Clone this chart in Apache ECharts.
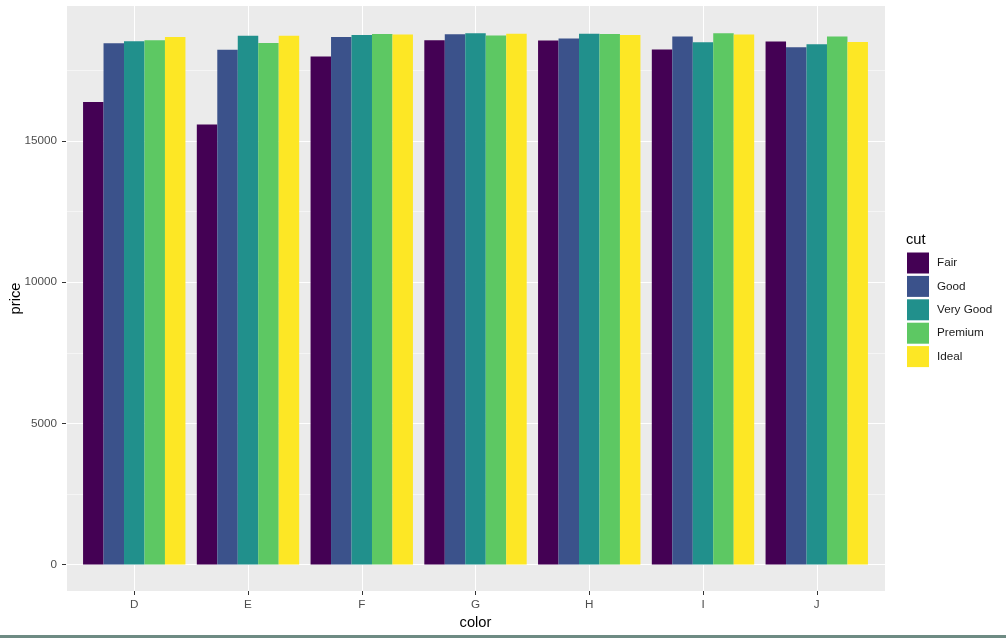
<!DOCTYPE html>
<html>
<head>
<meta charset="utf-8">
<script src="https://cdn.jsdelivr.net/npm/echarts@6/dist/echarts.min.js"></script>
<style>html,body{margin:0;padding:0;background:#fff}#c{width:1006px;height:638px}</style>
</head>
<body>
<div id="c"></div>
<script>
const categories = ['D','E','F','G','H','I','J'];
const cuts = ['Fair','Good','Very Good','Premium','Ideal'];
const fair     = [16386,15584,17995,18574,18565,18242,18531];
const good     = [18468,18236,18686,18788,18640,18707,18325];
const veryGood = [18542,18731,18759,18818,18803,18500,18430];
const premium  = [18575,18477,18791,18741,18795,18823,18710];
const ideal    = [18693,18729,18780,18806,18760,18779,18508];
const seriesValues = [fair, good, veryGood, premium, ideal];
const colors = ['#440154','#3B528B','#21908C','#5DC863','#FDE725'];

const FONT = "'Liberation Sans', Arial, sans-serif";
// panel geometry
const pL = 66, pR = 885, pT = 6, pB = 591;
const pW = pR - pL, pH = pB - pT;
const unit = pW / 7.2;
const bL = pL + 0.1 * unit, bW = 7 * unit;
const scale = 0.028254;          // px per data unit
const yZero = 564.4;
const yTopVal = 20000;
const gTop = yZero - yTopVal * scale;
const gH = yTopVal * scale;

const chart = echarts.init(document.getElementById('c'), null, {renderer: 'canvas'});
const option = {
  animation: false,
  textStyle: {fontFamily: FONT},
  grid: [
    {left: pL, top: pT, width: pW, height: pH, show: true, backgroundColor: '#EBEBEB', borderWidth: 0},
    {left: pL, top: gTop, width: pW, height: gH},
    {left: bL, top: gTop, width: bW, height: gH},
    {left: bL, top: pT, width: bW, height: pH}
  ],
  xAxis: [
    {gridIndex: 0, type: 'value', show: false},
    {gridIndex: 1, type: 'value', show: false},
    {gridIndex: 2, type: 'category', data: categories, show: false},
    {gridIndex: 3, type: 'category', data: categories, position: 'bottom',
      name: 'color', nameLocation: 'middle', nameGap: 22,
      nameTextStyle: {fontSize: 14.7, color: '#000', fontFamily: FONT},
      axisLine: {show: false},
      axisTick: {show: true, alignWithLabel: true, length: 4, lineStyle: {color: '#333333', width: 1}},
      axisLabel: {color: '#4D4D4D', fontSize: 11.7, margin: 8, fontFamily: FONT},
      splitLine: {show: true, alignWithLabel: true, lineStyle: {color: '#FFFFFF', width: 1}}
    }
  ],
  yAxis: [
    {gridIndex: 0, type: 'value', min: 0, max: 1, name: 'price', nameLocation: 'middle', nameGap: 44,
      nameTextStyle: {fontSize: 14.7, color: '#000', fontFamily: FONT},
      axisLine: {show: false}, axisTick: {show: false}, axisLabel: {show: false}, splitLine: {show: false}},
    {gridIndex: 1, type: 'value', min: 0, max: yTopVal, interval: 5000,
      axisLine: {show: false},
      axisTick: {show: true, length: 4, lineStyle: {color: '#333333', width: 1}},
      axisLabel: {color: '#4D4D4D', fontSize: 11.7, margin: 9, fontFamily: FONT, showMaxLabel: false,
        formatter: v => (v >= yTopVal ? '' : String(v))},
      splitLine: {show: true, lineStyle: {color: '#FFFFFF', width: 1}},
      minorTick: {show: false, splitNumber: 2},
      minorSplitLine: {show: true, lineStyle: {color: '#FFFFFF', width: 0.5}}
    },
    {gridIndex: 2, type: 'value', min: 0, max: yTopVal, show: false},
    {gridIndex: 3, type: 'value', show: false}
  ],
  title: {text: 'cut', left: 906, top: 232, padding: 0,
    textStyle: {fontSize: 14.7, fontWeight: 'normal', color: '#000', fontFamily: FONT}},
  legend: {
    orient: 'vertical', left: 907, top: 252.5, padding: 0,
    itemWidth: 22, itemHeight: 21, itemGap: 2.4, icon: 'rect',
    data: cuts,
    textStyle: {fontSize: 11.7, color: '#1A1A1A', fontFamily: FONT, padding: [3,0,0,3]}
  },
  graphic: [
    {type: 'rect', shape: {x: 0, y: 635, width: 1006, height: 3}, style: {fill: '#6E8B83'}, silent: true}
  ],
  series: cuts.map((c, i) => ({
    name: c, type: 'bar', xAxisIndex: 2, yAxisIndex: 2,
    data: seriesValues[i], barGap: '0%', barCategoryGap: '10%',
    itemStyle: {color: colors[i]}
  }))
};
chart.setOption(option);
</script>
</body>
</html>
